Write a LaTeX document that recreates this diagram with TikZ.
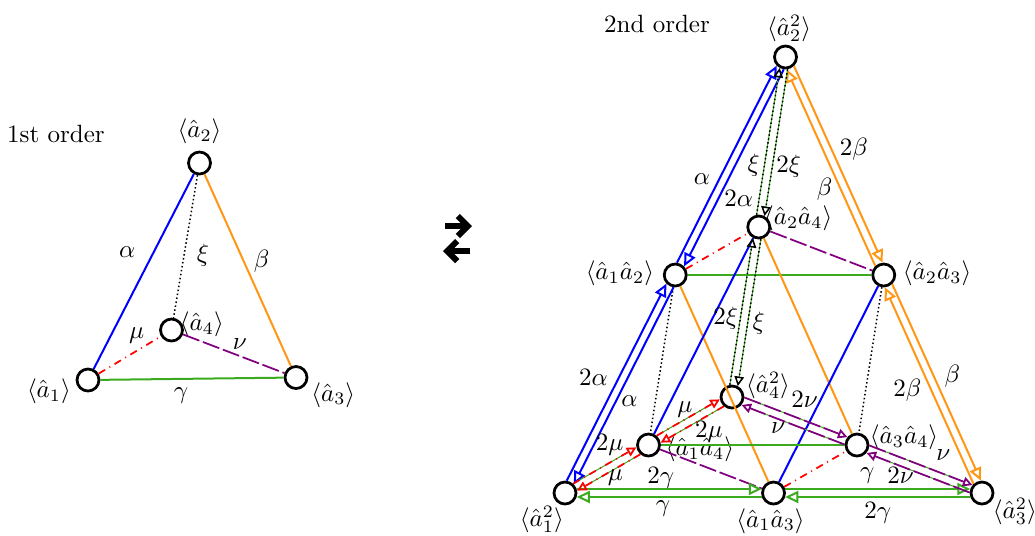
\documentclass[tikz,border=0pt]{standalone}
\usetikzlibrary{arrows.meta,calc}
\definecolor{cblue}{RGB}{0,0,255}
\definecolor{corange}{RGB}{255,150,20}
\definecolor{cgreen}{RGB}{60,170,30}
\definecolor{cpurple}{RGB}{128,0,128}
\definecolor{cred}{RGB}{255,0,0}
\tikzset{
  state/.style={circle, draw, line width=1.1pt, fill=white, minimum size=8.8pt, inner sep=0pt},
  lbl/.style={inner sep=0pt, text=black},
  aline/.style={cblue, line width=.8pt},
  bline/.style={corange, line width=.8pt},
  gline/.style={cgreen, line width=.8pt},
  xline/.style={black, densely dotted, line width=.6pt},
  mline/.style={cred, dash dot, line width=.7pt},
  nline/.style={cpurple, dash pattern=on 7pt off 1.5pt, line width=.7pt},
  pr/.style={shorten <=4.7pt, shorten >=4.7pt, -{Triangle[open, length=5.2pt, width=4.8pt]}},
  prs/.style={shorten <=4.7pt, shorten >=4.7pt, -{Triangle[open, length=3.8pt, width=3.8pt]}, preaction={draw=cgreen, solid}}
}
\begin{document}
\begin{tikzpicture}[x=0.4pt,y=-0.4pt]
  \useasboundingbox (0,0) rectangle (1035,535);
  % Titles
  \node (first) at (56,134) {1st order};
  \node (second) at (657,24) {2nd order};
  % First order states
  \node[state, label={[anchor=center, label distance=11.3pt]196.7:$\langle\hat a_1\rangle$}] (a1) at (88,380) {};
  \node[state, label={[anchor=center, label distance=7.85pt]90:$\langle\hat a_2\rangle$}] (a2) at (199.5,163) {};
  \node[state, label={[anchor=center, label distance=11.5pt]335:$\langle\hat a_3\rangle$}] (a3) at (296,377.5) {};
  \node[state, label={[anchor=center, label distance=7.4pt]11.2:$\langle\hat a_4\rangle$}] (a4) at (171.5,330) {};
  % First order links
  \draw[aline] (a1) -- (a2) node[lbl, pos=.6, left=7pt] {$\alpha$};
  \draw[xline] (a2) -- (a4) node[lbl, pos=.56, right=4.8pt] {$\xi$};
  \draw[bline] (a2) -- (a3) node[lbl, pos=.455, right=3.6pt] {$\beta$};
  \draw[mline] (a1) -- (a4) node[lbl, pos=.61, above=2.5pt] {$\mu$};
  \draw[nline] (a4) -- (a3) node[lbl, pos=.56, above=2.3pt] {$\nu$};
  \draw[gline] (a1) -- (a3) node[lbl, pos=.44, below=3.3pt] {$\gamma$};
  % Switch between the two orders
  \draw[line width=2.4pt, -{Straight Barb[length=4pt, width=8pt]}] (445,226) -- (472,226);
  \draw[line width=2.4pt, -{Straight Barb[length=4pt, width=8pt]}] (470,251) -- (443,251);
  % Second order states, corners
  \node[state, label={[anchor=center, label distance=9.2pt]229.6:$\langle\hat a_1^2\rangle$}] (s11) at (565,493) {};
  \node[state, label={[anchor=center, label distance=6.7pt]83:$\langle\hat a_2^2\rangle$}] (s22) at (785.5,57) {};
  \node[state, label={[anchor=center, label distance=10.1pt]331.4:$\langle\hat a_3^2\rangle$}] (s33) at (982,493) {};
  \node[state, label={[anchor=center, label distance=10.2pt]18.4:$\langle\hat a_4^2\rangle$}] (s44) at (732,397) {};
  % Second order states, mixed
  \node[state, label={[anchor=center, label distance=17.2pt]178:$\langle\hat a_1\hat a_2\rangle$}] (s12) at ($(s11)!.5!(s22)$) {};
  \node[state, label={[anchor=center, label distance=16.4pt]2:$\langle\hat a_2\hat a_3\rangle$}] (s23) at ($(s22)!.5!(s33)$) {};
  \node[state, label={[anchor=center, label distance=6.3pt]264:$\langle\hat a_1\hat a_3\rangle$}] (s13) at ($(s11)!.5!(s33)$) {};
  \node[state, label={[anchor=center, label distance=11.2pt]12.9:$\langle\hat a_2\hat a_4\rangle$}] (s24) at ($(s22)!.5!(s44)$) {};
  \node[state, label={[anchor=center, label distance=15.7pt]355.6:$\langle\hat a_1\hat a_4\rangle$}] (s14) at ($(s11)!.5!(s44)$) {};
  \node[state, label={[anchor=center, label distance=14.1pt]9.7:$\langle\hat a_3\hat a_4\rangle$}] (s34) at ($(s33)!.5!(s44)$) {};
  % Links between mixed states
  \draw[mline] (s12) -- (s24);
  \draw[nline] (s24) -- (s23);
  \draw[gline] (s12) -- (s23);
  \draw[xline] (s12) -- (s14);
  \draw[bline] (s12) -- (s13);
  \draw[aline] (s24) -- (s14);
  \draw[bline] (s24) -- (s34);
  \draw[aline] (s23) -- (s13);
  \draw[xline] (s23) -- (s34);
  \draw[gline] (s14) -- (s34);
  \draw[nline] (s14) -- (s13);
  \draw[mline] (s13) -- (s34);
  % alpha pairs
  \draw[pr, aline] ($(s12)!1.6pt!90:(s22)$) -- ($(s22)!1.6pt!-90:(s12)$) node[lbl, pos=.43, left=3.3pt] {$\alpha$};
  \draw[pr, aline] ($(s22)!1.6pt!90:(s12)$) -- ($(s12)!1.6pt!-90:(s22)$) node[lbl, pos=.64, right=1.9pt] {$2\alpha$};
  \draw[pr, aline] ($(s11)!1.6pt!90:(s12)$) -- ($(s12)!1.6pt!-90:(s11)$) node[lbl, pos=.52, left=4pt] {$2\alpha$};
  \draw[pr, aline] ($(s12)!1.6pt!90:(s11)$) -- ($(s11)!1.6pt!-90:(s12)$) node[lbl, pos=.57, right=1.8pt] {$\alpha$};
  % beta pairs
  \draw[pr, bline] ($(s22)!1.6pt!90:(s23)$) -- ($(s23)!1.6pt!-90:(s22)$) node[lbl, pos=.43, right=3pt] {$2\beta$};
  \draw[pr, bline] ($(s23)!1.6pt!90:(s22)$) -- ($(s22)!1.6pt!-90:(s23)$) node[lbl, pos=.4, left=3pt] {$\beta$};
  \draw[pr, bline] ($(s23)!1.6pt!90:(s33)$) -- ($(s33)!1.6pt!-90:(s23)$) node[lbl, pos=.47, right=4pt] {$\beta$};
  \draw[pr, bline] ($(s33)!1.6pt!90:(s23)$) -- ($(s23)!1.6pt!-90:(s33)$) node[lbl, pos=.48, left=3.5pt] {$2\beta$};
  % gamma pairs
  \draw[pr, gline] ($(s11)!1.6pt!90:(s13)$) -- ($(s13)!1.6pt!-90:(s11)$) node[lbl, pos=.46, above=0pt] {$2\gamma$};
  \draw[pr, gline] ($(s13)!1.6pt!90:(s11)$) -- ($(s11)!1.6pt!-90:(s13)$) node[lbl, pos=.53, below=1pt] {$\gamma$};
  \draw[pr, gline] ($(s13)!1.6pt!90:(s33)$) -- ($(s33)!1.6pt!-90:(s13)$) node[lbl, pos=.45, above=1.8pt] {$\gamma$};
  \draw[pr, gline] ($(s33)!1.6pt!90:(s13)$) -- ($(s13)!1.6pt!-90:(s33)$) node[lbl, pos=.5, below=1.7pt] {$2\gamma$};
  % xi pairs
  \draw[prs, xline] ($(s24)!1.6pt!90:(s22)$) -- ($(s22)!1.6pt!-90:(s24)$) node[lbl, pos=.36, left=1.6pt] {$\xi$};
  \draw[prs, xline] ($(s22)!1.6pt!90:(s24)$) -- ($(s24)!1.6pt!-90:(s22)$) node[lbl, pos=.64, right=1.3pt] {$2\xi$};
  \draw[prs, xline] ($(s44)!1.6pt!90:(s24)$) -- ($(s24)!1.6pt!-90:(s44)$) node[lbl, pos=.46, left=.7pt] {$2\xi$};
  \draw[prs, xline] ($(s24)!1.6pt!90:(s44)$) -- ($(s44)!1.6pt!-90:(s24)$) node[lbl, pos=.56, right=1.7pt] {$\xi$};
  % mu pairs
  \draw[prs, mline] ($(s11)!1.6pt!90:(s14)$) -- ($(s14)!1.6pt!-90:(s11)$) node[lbl, pos=.56, above=2.5pt] {$2\mu$};
  \draw[prs, mline] ($(s14)!1.6pt!90:(s11)$) -- ($(s11)!1.6pt!-90:(s14)$) node[lbl, pos=.42, below=0pt] {$\mu$};
  \draw[prs, mline] ($(s14)!1.6pt!90:(s44)$) -- ($(s44)!1.6pt!-90:(s14)$) node[lbl, pos=.46, above=.3pt] {$\mu$};
  \draw[prs, mline] ($(s44)!1.6pt!90:(s14)$) -- ($(s14)!1.6pt!-90:(s44)$) node[lbl, pos=.3, below=2.1pt] {$2\mu$};
  % nu pairs
  \draw[prs, nline] ($(s44)!1.6pt!90:(s34)$) -- ($(s34)!1.6pt!-90:(s44)$) node[lbl, pos=.57, above=4.8pt] {$2\nu$};
  \draw[prs, nline] ($(s34)!1.6pt!90:(s44)$) -- ($(s44)!1.6pt!-90:(s34)$) node[lbl, pos=.62, below=1.3pt] {$\nu$};
  \draw[prs, nline] ($(s34)!1.6pt!90:(s33)$) -- ($(s33)!1.6pt!-90:(s34)$) node[lbl, pos=.68, above=5.1pt] {$\nu$};
  \draw[prs, nline] ($(s33)!1.6pt!90:(s34)$) -- ($(s34)!1.6pt!-90:(s33)$) node[lbl, pos=.64, below=.2pt] {$2\nu$};
\end{tikzpicture}
\end{document}
